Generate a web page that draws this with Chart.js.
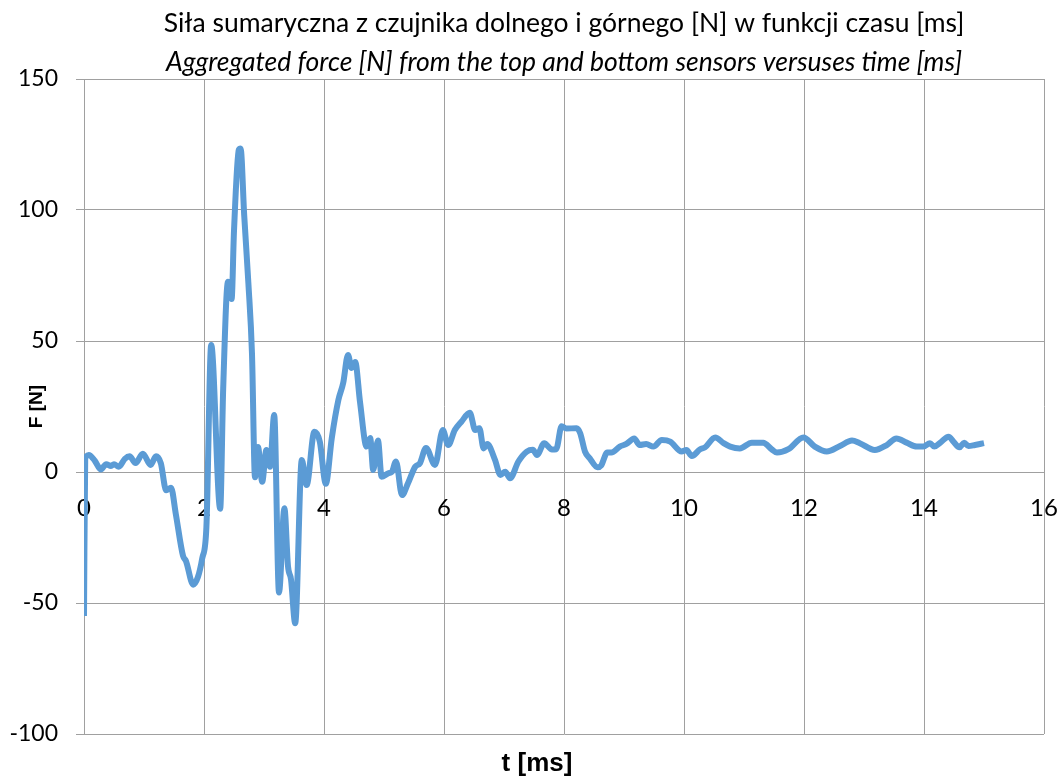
<!DOCTYPE html>
<html>
<head>
<meta charset="utf-8">
<script src="https://cdn.jsdelivr.net/npm/chart.js@4.4.0/dist/chart.umd.min.js"></script>
<style>
  body { margin: 0; background: #fff; }
  canvas { display: block; }
</style>
</head>
<body>
<canvas id="wykres" width="1059" height="776"></canvas>
<script>
// czas [ms] i siła [N]
var czas = [0, 0.02, 0.08, 0.18, 0.28, 0.37, 0.45, 0.5, 0.58, 0.68, 0.76, 0.86, 0.98, 1.11, 1.2, 1.28,
    1.37, 1.45, 1.53, 1.65, 1.7, 1.82, 1.9, 1.97, 2.04, 2.12, 2.27, 2.32, 2.4, 2.46, 2.5, 2.58, 2.61,
    2.67, 2.74, 2.8, 2.85, 2.9, 2.97, 3.04, 3.1, 3.17, 3.25, 3.34, 3.4, 3.45, 3.52, 3.63, 3.71, 3.84,
    3.93, 4.03, 4.13, 4.24, 4.32, 4.4, 4.46, 4.52, 4.6, 4.71, 4.77, 4.82, 4.9, 4.96, 5.07, 5.13, 5.2,
    5.3, 5.4, 5.52, 5.6, 5.7, 5.85, 5.98, 6.07, 6.18, 6.29, 6.43, 6.52, 6.59, 6.66, 6.72, 6.85, 6.94,
    7.02, 7.1, 7.24, 7.38, 7.48, 7.55, 7.67, 7.8, 7.87, 7.96, 8.04, 8.21, 8.27, 8.35, 8.43, 8.56, 8.62,
    8.72, 8.79, 8.93, 9.04, 9.17, 9.26, 9.37, 9.49, 9.63, 9.77, 9.96, 10.04, 10.13, 10.27, 10.35, 10.52,
    10.66, 10.77, 10.93, 11.13, 11.32, 11.46, 11.55, 11.74, 11.99, 12.18, 12.38, 12.6, 12.8, 12.93,
    13.18, 13.38, 13.54, 13.71, 13.88, 13.99, 14.1, 14.17, 14.27, 14.41, 14.49, 14.59, 14.67, 14.74,
    14.85, 15.0];
var sila = [-55, 5, 6.5, 4.3, 1, 3, 2.3, 3, 2, 5, 6, 3.4, 7, 2.7, 6, 3.4,
    -7, -6, -16, -32, -34, -43, -40, -33, -21, 48.5, -14, 32, 72.6, 66, 92, 123, 123.5,
    98, 72, 45, -2, 9.5, -3.7, 8.4, 2, 21.8, -46, -13.8, -36, -41, -57.7, 4.6, -5, 15.4,
    11.6, -4.5, 13, 27.5, 34, 44.7, 39.7, 42, 26.8, 9.7, 13, 0.8, 12, -1.8, -0.5, 0, 4,
    -8.8, -4.3, 2, 3.4, 9.2, 2.7, 16, 10.3, 16, 19.2, 22.6, 16, 16.7, 9, 10.7, 4.6, -1.1,
    0.1, -2.4, 4, 7.8, 8.5, 6.5, 11, 8.6, 8.7, 17.5, 16.6, 16.7, 14.8, 7.8, 5.2, 1.8, 2.5,
    7.4, 7.4, 9.7, 10.7, 12.8, 10.3, 10.7, 9.7, 12.2, 11.6, 7.8, 8.4, 6.1, 8.7, 9.4, 13.2,
    11, 9.7, 9, 11.2, 11.2, 8.7, 7.4, 8.7, 13.2, 9.7, 7.8, 9.9, 12, 11,
    8.4, 10.3, 12.8, 11.2, 9.7, 9.7, 11, 9.7, 11.2, 13.5, 11.6, 9.4, 11.2, 9.9,
    10.3, 11];

var tytul = "Siła sumaryczna z czujnika dolnego i górnego [N] w funkcji czasu [ms]";
var podtytul = "Aggregated force [N] from the top and bottom sensors versuses time [ms]";
var osX = "t [ms]";
var osY = "F [N]";

var punkty = [];
for (var i = 0; i < czas.length; i++) {
    punkty.push({x: czas[i], y: sila[i]});
}

var siatka = '#a0a0a0';

// opis osi X pod wykresem (troche w lewo od srodka, jak w oryginale)
var opisOsiX = {
    id: 'opisOsiX',
    afterDraw: function (chart) {
        var c = chart.ctx;
        c.save();
        c.fillStyle = '#000';
        c.font = 'bold 26px "Liberation Sans"';
        c.textAlign = 'center';
        c.textBaseline = 'middle';
        c.fillText(osX, 537, 764);
        c.restore();
    }
};

var ctx = document.getElementById("wykres");
var wykres = new Chart(ctx, {
    type: 'line',
    data: {
        datasets: [{
            label: 'F',
            data: punkty,
            borderColor: '#5b9bd5',
            borderWidth: 6,
            pointRadius: 0,
            cubicInterpolationMode: 'monotone',
            fill: false
        }]
    },
    plugins: [opisOsiX],
    options: {
        responsive: false,
        animation: false,
        layout: { padding: { left: 0, right: 15, top: 0, bottom: 42 } },
        plugins: {
            legend: { display: false },
            tooltip: { enabled: false },
            title: {
                display: true,
                text: tytul,
                fullSize: false,
                color: '#000',
                font: { family: 'Lato', size: 26.5, weight: 'normal' },
                padding: { top: 8, bottom: 0 }
            },
            subtitle: {
                display: true,
                text: podtytul,
                fullSize: false,
                color: '#000',
                font: { family: 'Lato', size: 26.5, style: 'italic' },
                padding: { top: 6.3, bottom: 1.1 }
            }
        },
        scales: {
            x: {
                type: 'linear',
                position: { y: 0 },
                min: 0,
                max: 16,
                ticks: {
                    stepSize: 2,
                    color: '#000',
                    padding: 14,
                    maxRotation: 0,
                    font: { family: 'Lato', size: 24 }
                },
                grid: { color: siatka, tickLength: 8 },
                border: { color: siatka },
                afterFit: function (skala) {
                    skala.paddingLeft = 0;
                    skala.paddingRight = 0;
                }
            },
            y: {
                type: 'linear',
                min: -100,
                max: 150,
                ticks: {
                    stepSize: 50,
                    color: '#000',
                    padding: 18,
                    font: { family: 'Lato', size: 23 }
                },
                grid: { color: siatka, tickLength: 8 },
                border: { color: siatka },
                title: {
                    display: true,
                    text: osY,
                    color: '#000',
                    font: { family: 'Liberation Sans', size: 19, weight: 'bold', lineHeight: 1 },
                    padding: { top: 27, bottom: 0 }
                },
                afterFit: function (skala) {
                    skala.width = 84;
                    skala.paddingTop = 0;
                    skala.paddingBottom = 0;
                }
            }
        }
    }
});
</script>
</body>
</html>
